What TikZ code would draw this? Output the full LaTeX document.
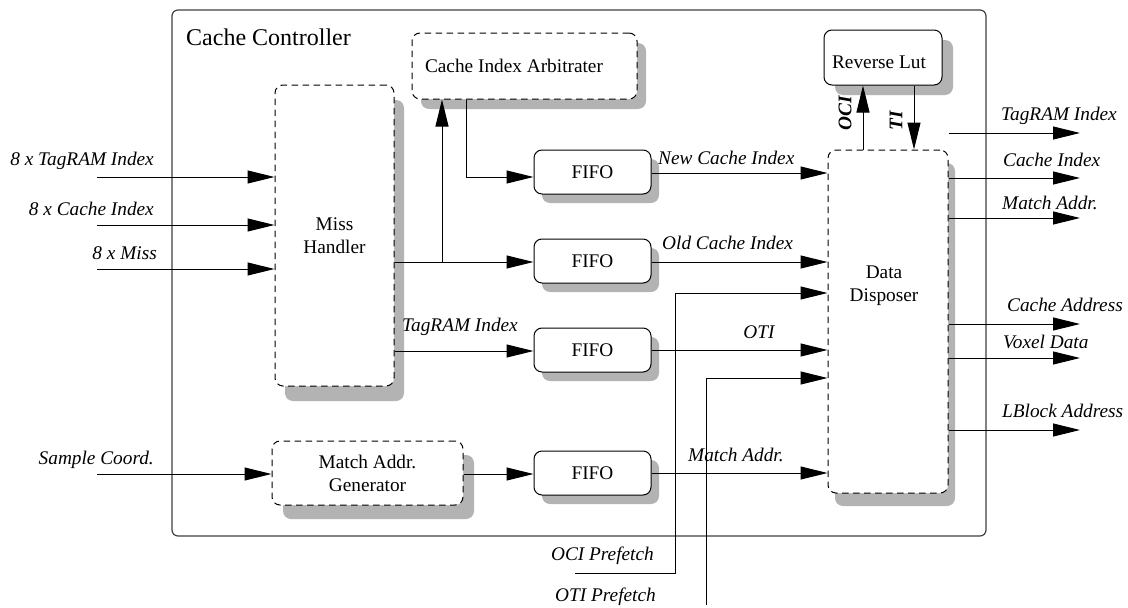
\documentclass[tikz,border=0pt]{standalone}
\usepackage{fontspec}
\setmainfont{Liberation Serif}
\usetikzlibrary{arrows.meta,shadows}
\definecolor{shadowgray}{RGB}{179,179,179}
\definecolor{framegray}{RGB}{64,64,64}
\tikzset{
  lbl/.style={font=\fontsize{19.3}{23}\selectfont\itshape, inner sep=0pt},
  vlbl/.style={font=\fontsize{19.3}{23}\selectfont\bfseries\itshape, inner sep=0pt, rotate=90},
  txt/.style={font=\fontsize{19.3}{23}\selectfont, inner sep=0pt, align=center},
  blk/.style={draw, line width=1pt, rounded corners=8pt, fill=white, inner sep=0pt,
              font=\fontsize{19.3}{23}\selectfont, align=center},
  dashblk/.style={blk, dash pattern=on 6.5pt off 4.5pt},
  sh/.style 2 args={general shadow={shadow xshift=#1pt, shadow yshift=-#2pt, fill=shadowgray}},
  frame/.style={draw=framegray, line width=1.2pt, rounded corners=6pt, inner sep=0pt},
  arr/.style={line width=1pt, -{Triangle[length=27pt,width=13pt]}},
}
\begin{document}
\begin{tikzpicture}[x=1pt,y=-1pt]
\useasboundingbox (0,0) rectangle (1128,608);

% enclosing controller frame
\node[frame, minimum width=814pt, minimum height=526pt] (cc) at (579,273) {};
\node[txt, font=\fontsize{24}{28}\selectfont, anchor=base west] (cctitle) at (186,45) {Cache Controller};

% functional blocks
\node[dashblk, sh={10}{15}, minimum width=119pt, minimum height=301pt] (mh) at (334.5,235.5) {Miss\\Handler};
\node[dashblk, sh={9}{10}, minimum width=225pt, minimum height=66pt] (arb) at (524.5,66) {};
\node[txt] (arbtext) at (514,66) {Cache Index Arbitrater};
\node[blk, sh={11}{10}, minimum width=118pt, minimum height=55pt] (rl) at (883,57.5) {};
\node[txt] (rltext) at (879,62) {Reverse Lut};
\foreach \n/\y in {1/172,2/261,3/350,4/473}
  \node[blk, sh={8}{9}, minimum width=117pt, minimum height=44pt] (fifo\n) at (592.5,\y) {FIFO};
\node[dashblk, sh={11}{14}, minimum width=191pt, minimum height=64pt] (mag) at (367.5,473) {Match Addr.\\Generator};
\node[dashblk, sh={7}{13}, minimum width=120pt, minimum height=343pt] (dd) at (888,321.5) {};
\node[txt] (ddtext) at (884,286) {Data\\Disposer};

% free ends of external signals
\coordinate (in1) at (97,177);
\coordinate (in2) at (97,225);
\coordinate (in3) at (97,269);
\coordinate (in4) at (97,474);
\coordinate (br) at (442,262);
\coordinate (ocip) at (575,573);
\coordinate (ocibend) at (675,293);
\coordinate (otip) at (706,605);
\coordinate (out1) at (1080,133);
\coordinate (out2) at (1080,178);
\coordinate (out3) at (1080,218);
\coordinate (out4) at (1080,324);
\coordinate (out5) at (1080,358);
\coordinate (out6) at (1080,430);

% inputs to the miss handler and address generator
\draw[arr] (in1) -- (mh.west |- in1);
\draw[arr] (in2) -- (mh.west |- in2);
\draw[arr] (in3) -- (mh.west |- in3);
\draw[arr] (in4) -- (mag.west |- in4);
\node[lbl, anchor=base east] (l1) at (154,165) {8 x TagRAM Index};
\node[lbl, anchor=base east] (l2) at (154,215) {8 x Cache Index};
\node[lbl, anchor=base east] (l3) at (157,259) {8 x Miss};
\node[lbl, anchor=base east] (l4) at (154,464) {Sample Coord.};

% miss handler fan-out
\draw[arr] (mh.east |- br) -- (fifo2.west |- br);
\draw[arr] (br) -- (br |- arb.south);
\draw[arr] (arb.south -| 466,0) |- (fifo1.west |- 0,177);
\draw[arr] (mh.east |- 0,351) -- (fifo3.west |- 0,351);
\node[lbl, anchor=base west] (l5) at (402,331) {TagRAM Index};
\draw[arr] (mag.east |- 0,474) -- (fifo4.west |- 0,474);

% FIFOs into the data disposer
\draw[arr] (fifo1.east |- 0,173) -- (dd.west |- 0,173);
\node[lbl, anchor=base west] (l6) at (658,164) {New Cache Index};
\draw[arr] (fifo2.east |- 0,262) -- (dd.west |- 0,262);
\node[lbl, anchor=base west] (l7) at (662,249) {Old Cache Index};
\draw[arr] (fifo3.east |- 0,350) -- (dd.west |- 0,350);
\node[lbl] (l8) at (759,332) {OTI};
\draw[arr] (fifo4.east |- 0,473) -- (dd.west |- 0,473);
\node[lbl, anchor=base west] (l9) at (688,461) {Match Addr.};

% prefetch paths
\draw[arr] (ocip) -| (ocibend) -- (dd.west |- ocibend);
\node[lbl, anchor=base east] (l10) at (654,560) {OCI Prefetch};
\draw[arr] (otip) |- (dd.west |- 0,378);
\node[lbl, anchor=base east] (l11) at (656,601) {OTI Prefetch};

% reverse lookup
\draw[arr] (dd.north -| 863,0) -- (rl.south -| 863,0);
\draw[arr] (rl.south -| 914,0) -- (dd.north -| 914,0);
\node[vlbl] (l12) at (845,113) {OCI};
\node[vlbl] (l13) at (896,121) {TI};

% outputs
\draw[arr] (dd.east |- out1) -- (out1);
\draw[arr] (dd.east |- out2) -- (out2);
\draw[arr] (dd.east |- out3) -- (out3);
\draw[arr] (dd.east |- out4) -- (out4);
\draw[arr] (dd.east |- out5) -- (out5);
\draw[arr] (dd.east |- out6) -- (out6);
\node[lbl, anchor=base west] (o1) at (1001,120) {TagRAM Index};
\node[lbl, anchor=base west] (o2) at (1003,166) {Cache Index};
\node[lbl, anchor=base west] (o3) at (1002,209) {Match Addr.};
\node[lbl, anchor=base west] (o4) at (1007,311) {Cache Address};
\node[lbl, anchor=base west] (o5) at (1003,348) {Voxel Data};
\node[lbl, anchor=base west] (o6) at (1002,417) {LBlock Address};
\end{tikzpicture}
\end{document}
